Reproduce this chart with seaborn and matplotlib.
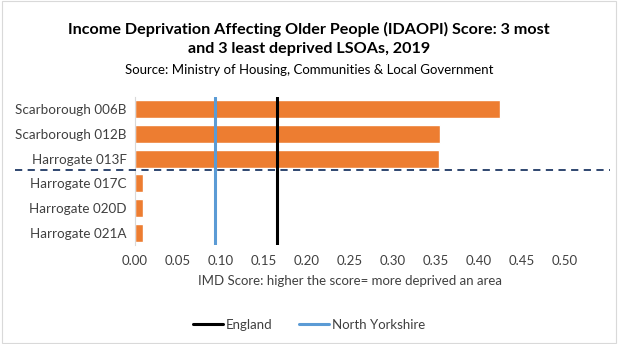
import matplotlib
matplotlib.use("Agg")
import matplotlib.pyplot as plt
from matplotlib.lines import Line2D
import seaborn as sns
import pandas as pd

# IDAOPI scores for the 3 most and 3 least deprived LSOAs
lsoas = ["Scarborough 006B", "Scarborough 012B", "Harrogate 013F",
         "Harrogate 017C", "Harrogate 020D", "Harrogate 021A"]
scores = [0.424, 0.355, 0.354, 0.0095, 0.009, 0.009]

# Reference averages
england_score = 0.165
north_yorkshire_score = 0.093

xticks = [0.00, 0.05, 0.10, 0.15, 0.20, 0.25, 0.30, 0.35, 0.40, 0.45, 0.50]

df = pd.DataFrame({"LSOA": lsoas, "Score": scores})

sns.set_theme(style="white")
plt.rcParams["font.family"] = ["Lato", "DejaVu Sans"]

fig = plt.figure(figsize=(6.18, 3.44), dpi=100)
ax = fig.add_axes([0.2184, 0.288, 0.6958, 0.430])

sns.barplot(data=df, x="Score", y="LSOA", color="#ed7d31", saturation=1,
            width=0.73, ax=ax, orient="h")

ax.axvline(north_yorkshire_score, color="#5b9bd5", lw=2.2, zorder=3)
ax.axvline(england_score, color="black", lw=2.2, zorder=3)

ax.set_xlim(0, 0.5)
ax.set_ylim(5.5, -0.5)
ax.set_xticks(xticks)
ax.set_xticklabels([f"{t:.2f}" for t in xticks], fontsize=9.5, color="#404040")
ax.tick_params(axis="y", labelsize=9.7, colors="#404040", length=0, pad=6)
ax.tick_params(axis="x", length=0, pad=7)
ax.set_ylabel("")
ax.set_xlabel("IMD Score: higher the score= more deprived an area",
              fontsize=9.5, color="#404040", labelpad=6)

for side in ["top", "right", "bottom"]:
    ax.spines[side].set_visible(False)
ax.spines["left"].set_color("#d9d9d9")
ax.spines["left"].set_linewidth(0.8)

# Divider between most and least deprived groups
div_y = 1 - 169.5 / 344
fig.add_artist(Line2D([15 / 618, 610 / 618], [div_y, div_y],
                      color="#1f3864", lw=1.3, ls=(0, (4, 3))))

fig.text(0.5, 1 - 29 / 344,
         "Income Deprivation Affecting Older People (IDAOPI) Score: 3 most",
         ha="center", va="center", fontsize=11.6, fontweight="bold", color="black")
fig.text(0.5, 1 - 49 / 344, "and 3 least deprived LSOAs, 2019",
         ha="center", va="center", fontsize=11.6, fontweight="bold", color="black")
fig.text(0.5, 1 - 70 / 344,
         "Source: Ministry of Housing, Communities & Local Government",
         ha="center", va="center", fontsize=9.5, color="black")

handles = [Line2D([], [], color="black", lw=2.2),
           Line2D([], [], color="#5b9bd5", lw=2.2)]
fig.legend(handles, ["England", "North Yorkshire"], loc="center",
           bbox_to_anchor=(0.5, 1 - 325 / 344), ncol=2, frameon=False,
           fontsize=9.5, handlelength=2.3, handletextpad=0.2, columnspacing=2.0,
           labelcolor="#404040")

# Light chart border
fig.add_artist(plt.Rectangle((0.003, 0.003), 0.994, 0.994, fill=False,
                             edgecolor="#d9d9d9", lw=0.8,
                             transform=fig.transFigure))

fig.savefig("out.png", dpi=100)
